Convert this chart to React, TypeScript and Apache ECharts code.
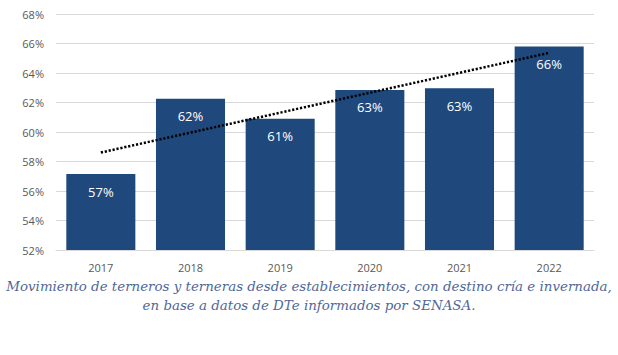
import React, { useEffect, useRef } from "react";
import * as echarts from "echarts";

const years = ["2017", "2018", "2019", "2020", "2021", "2022"];
const shares = [57.15, 62.26, 60.9, 62.85, 62.96, 65.8];
const yTicks = { min: 52, max: 68, step: 2 };
const captionLines = [
  "Movimiento de terneros y terneras desde establecimientos, con destino cría e invernada,",
  "en base a datos de DTe informados por SENASA.",
];

function linearTrend(vals: number[]): number[] {
  const n = vals.length;
  const mx = (n - 1) / 2;
  const my = vals.reduce((a, b) => a + b, 0) / n;
  let sxy = 0;
  let sxx = 0;
  vals.forEach((v, i) => {
    sxy += (i - mx) * (v - my);
    sxx += (i - mx) * (i - mx);
  });
  const slope = sxy / sxx;
  return vals.map((_, i) => my + slope * (i - mx));
}

export default function App() {
  const ref = useRef<HTMLDivElement>(null);
  useEffect(() => {
    if (!ref.current) return;
    const chart = echarts.init(ref.current, null, { renderer: "svg" });
    const trend = linearTrend(shares);
    chart.setOption({
      animation: false,
      backgroundColor: "#ffffff",
      grid: { left: 56, right: 24, top: 14, bottom: 105, containLabel: false },
      xAxis: {
        type: "category",
        data: years,
        axisTick: { show: false },
        axisLine: { show: true, lineStyle: { color: "#D9D9D9", width: 1 } },
        axisLabel: {
          color: "#595959",
          fontSize: 11,
          fontFamily: "Open Sans",
          margin: 12,
        },
      },
      yAxis: {
        type: "value",
        min: yTicks.min,
        max: yTicks.max,
        interval: yTicks.step,
        axisLine: { show: false },
        axisTick: { show: false },
        splitLine: { lineStyle: { color: "#D9D9D9", width: 1 } },
        axisLabel: {
          color: "#595959",
          fontSize: 11,
          fontFamily: "Open Sans",
          margin: 12,
          formatter: (v: number) => `${v}%`,
        },
      },
      series: [
        {
          type: "bar",
          data: shares,
          barCategoryGap: "23%",
          itemStyle: { color: "#1F497D" },
          label: {
            show: true,
            position: "insideTop",
            distance: 11,
            color: "#ffffff",
            fontSize: 13,
            fontFamily: "Open Sans",
            formatter: (p: any) => `${Math.round(p.value)}%`,
          },
          z: 2,
        },
        {
          type: "line",
          data: trend,
          symbol: "none",
          silent: true,
          lineStyle: { color: "#000000", width: 2.5, type: [2.2, 1.8] },
          z: 3,
        },
      ],
      graphic: captionLines.map((t, i) => ({
        type: "text",
        left: "center",
        top: 280 + i * 19,
        style: {
          text: t,
          fill: "#4F6798",
          fontSize: 13.4,
          fontStyle: "italic",
          fontFamily: "DejaVu Serif",
        },
      })),
    });
    return () => chart.dispose();
  }, []);
  return (
    <div
      ref={ref}
      style={{ position: "fixed", left: 0, top: 0, width: 618, height: 355 }}
    />
  );
}
